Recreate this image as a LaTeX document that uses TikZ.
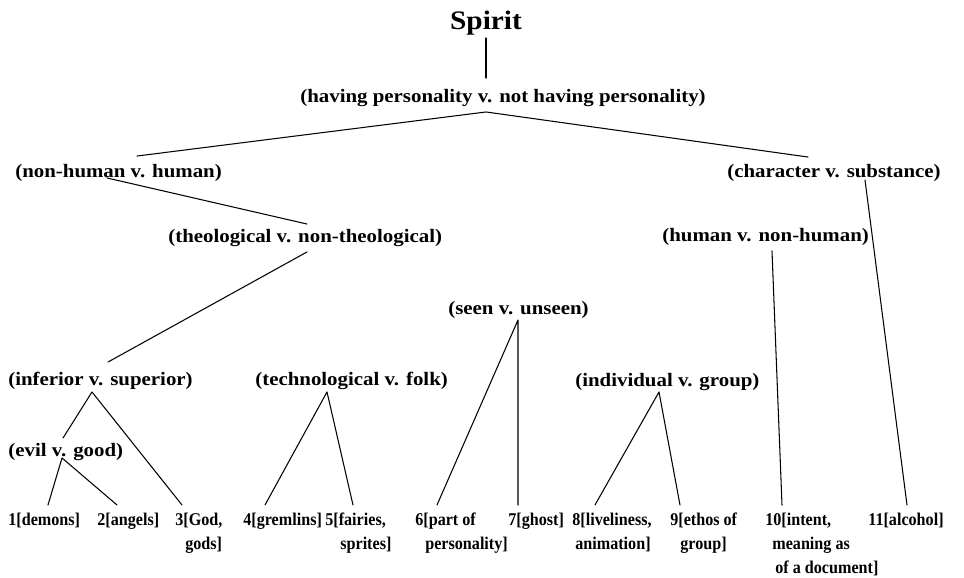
\documentclass[tikz,border=0pt]{standalone}
\usepackage{fontspec}
\setmainfont{Liberation Serif}
\newfontfamily\critfont{Liberation Serif}[FakeStretch=1.1]
\newfontfamily\leaffont{Liberation Serif}[FakeStretch=0.9]
\usepackage{tikz}
\usetikzlibrary{calc}

\begin{document}
\begin{tikzpicture}[x=0.02cm,y=-0.02cm,line cap=round,line join=round,
    crit/.style={anchor=west,font=\critfont\bfseries\fontsize{10.8}{13}\selectfont,
      inner xsep=0pt,inner ysep=2.8pt,text height=7.5pt,text depth=2.4pt},
    leaf/.style={anchor=north west,align=left,
      font=\leaffont\bfseries\fontsize{10.2}{13.6}\selectfont,inner sep=0pt},
    branch/.style={draw=black,line width=0.6pt}]
  \path[use as bounding box,fill=white] (0,0) rectangle (964,578);

  \node[font=\critfont\bfseries\fontsize{15.2}{18}\selectfont,anchor=base,
        inner sep=0pt] (spirit) at (486,30) {Spirit};

  % Distinctions, from the root downwards.
  \node[crit] (having) at (300,98) {(having personality v. not having personality)};
  \node[crit] (nonhuman) at (15,173) {(non-human v. human)};
  \node[crit] (character) at (727,173) {(character v. substance)};
  \node[crit] (theol) at (168,238) {(theological v. non-theological)};
  \node[crit] (human) at (662,237) {(human v. non-human)};
  \node[crit] (seen) at (448,310) {(seen v. unseen)};
  \node[crit] (inferior) at (8,381) {(inferior v. superior)};
  \node[crit] (techno) at (255,381) {(technological v. folk)};
  \node[crit] (indiv) at (575,382) {(individual v. group)};
  \node[crit] (evil) at (8,452) {(evil v. good)};

  % The eleven senses along the bottom.
  \node[leaf] (l1) at (8,513) {1[demons]};
  \node[leaf] (l2) at (97,513) {2[angels]};
  \node[leaf] (l3) at (175,513) {3[God,\\\hspace*{0.2cm}gods]};
  \node[leaf] (l4) at (243,513) {4[gremlins]};
  \node[leaf] (l5) at (325,513) {5[fairies,\\\hspace*{0.3cm}sprites]};
  \node[leaf] (l6) at (415,513) {6[part of\\\hspace*{0.2cm}personality]};
  \node[leaf] (l7) at (508,513) {7[ghost]};
  \node[leaf] (l8) at (572,513) {8[liveliness,\\\hspace*{0.06cm}animation]};
  \node[leaf] (l9) at (670,513) {9[ethos of\\\hspace*{0.2cm}group]};
  \node[leaf] (l10) at (765,513)
    {10[intent,\\\hspace*{0.14cm}meaning as\\\hspace*{0.2cm}of a document]};
  \node[leaf] (l11) at (868,513) {11[alcohol]};

  % Branches.
  \draw[branch] ($(spirit.base)+(0,8)$) -- ($(having.north west)+(186,-6)$);
  \draw[branch] ($(nonhuman.north west)+(122,-3)$) -- ($(having.south west)+(186,0)$)
    -- ($(character.north west)+(81,-2)$);
  \draw[branch] ($(nonhuman.south west)+(92,-9)$) -- ($(theol.north west)+(139,0)$);
  \draw[branch] ($(theol.south west)+(139,0)$) -- ($(inferior.north west)+(100,-5)$);
  \draw[branch] ($(evil.north west)+(55,0)$) -- ($(inferior.south west)+(84,-3)$)
    -- ($(l3.north west)+(7,-8)$);
  \draw[branch] ($(l1.north west)+(40,-8)$) -- ($(evil.south west)+(54,-8)$)
    -- ($(l2.north west)+(20,-8)$);
  \draw[branch] ($(l4.north west)+(22,-8)$) -- ($(techno.south west)+(72,-3)$)
    -- ($(l5.north west)+(28,-8)$);
  \draw[branch] ($(l6.north west)+(22,-8)$) -- ($(seen.south west)+(70,-4)$)
    -- ($(l7.north west)+(10,-8)$);
  \draw[branch] ($(l8.north west)+(23,-8)$) -- ($(indiv.south west)+(84,-4)$)
    -- ($(l9.north west)+(10,-8)$);
  \draw[branch] ($(human.south west)+(110,0)$) -- ($(l10.north west)+(17,-8)$);
  \draw[branch] ($(character.south west)+(138,-7)$) -- ($(l11.north west)+(39,-8)$);
\end{tikzpicture}
\end{document}
